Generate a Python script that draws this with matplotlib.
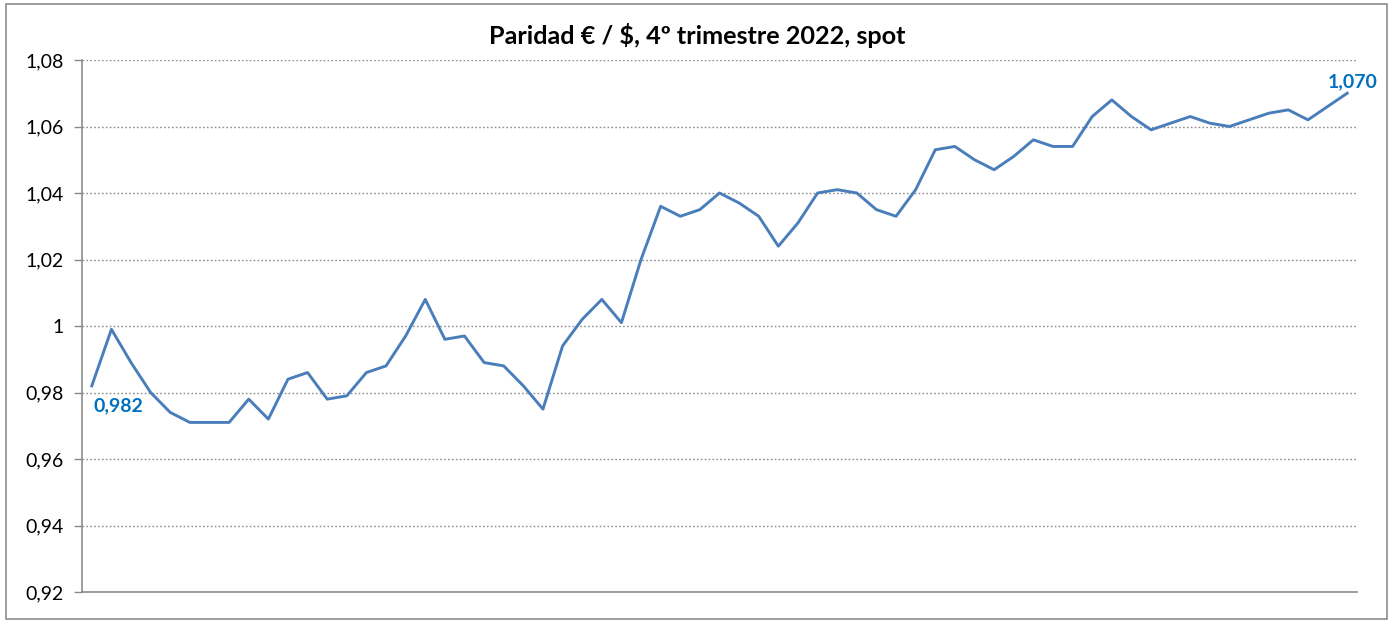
import matplotlib.pyplot as plt
from matplotlib.patches import Rectangle

# Paridad EUR/USD, 4T 2022
paridad = [0.982, 0.999, 0.989, 0.980, 0.974, 0.971, 0.971, 0.971, 0.978, 0.972,
           0.984, 0.986, 0.978, 0.979, 0.986, 0.988, 0.997, 1.008, 0.996, 0.997,
           0.989, 0.988, 0.982, 0.975, 0.994, 1.002, 1.008, 1.001, 1.020, 1.036,
           1.033, 1.035, 1.040, 1.037, 1.033, 1.024, 1.031, 1.040, 1.041, 1.040,
           1.035, 1.033, 1.041, 1.053, 1.054, 1.050, 1.047, 1.051, 1.056, 1.054,
           1.054, 1.063, 1.068, 1.063, 1.059, 1.061, 1.063, 1.061, 1.060, 1.062,
           1.064, 1.065, 1.062, 1.066, 1.070]
yticks = [0.92, 0.94, 0.96, 0.98, 1.00, 1.02, 1.04, 1.06, 1.08]
ylabels = ['0,92', '0,94', '0,96', '0,98', '1', '1,02', '1,04', '1,06', '1,08']
titulo = 'Paridad € / $, 4º trimestre 2022, spot'

plt.rcParams['font.family'] = ['Lato', 'DejaVu Sans']
azul = '#4A7EBB'
gris = '#8C8C8C'

fig = plt.figure(figsize=(13.94, 6.21), dpi=100)
fig.patches.append(Rectangle((6 / 1394, 2 / 621), 1381 / 1394, 615 / 621,
                             transform=fig.transFigure, fill=False,
                             edgecolor=gris, linewidth=1.2))
ax = fig.add_axes([82 / 1394, 1 - 592 / 621, 1275 / 1394, 532 / 621])

x = list(range(len(paridad)))
ax.plot(x, paridad, color=azul, linewidth=2.1)

ax.set_xlim(-0.5, len(paridad) - 0.5)
ax.set_ylim(0.92, 1.08)
ax.set_yticks(yticks)
ax.set_yticklabels(ylabels, fontsize=14)
ax.set_xticks([])
ax.yaxis.grid(True, linestyle=(0, (1.2, 1.6)), color=gris, linewidth=1.0)
ax.set_axisbelow(True)
ax.tick_params(axis='y', length=6, width=1, color=gris, pad=7)
for s in ['top', 'right']:
    ax.spines[s].set_visible(False)
for s in ['left', 'bottom']:
    ax.spines[s].set_color(gris)
    ax.spines[s].set_linewidth(1.2)

ax.annotate('0,982', xy=(x[0], paridad[0]), xytext=(1, -14),
            textcoords='offset points', ha='left', va='center',
            fontsize=14, fontweight='bold', color='#0070C0')
ax.annotate('1,070', xy=(x[-1], paridad[-1]), xytext=(4, 8),
            textcoords='offset points', ha='center', va='center',
            fontsize=14, fontweight='bold', color='#0070C0')

fig.text(0.5, 1 - 35 / 621, titulo, ha='center', va='center',
         fontsize=18.2, fontweight='bold')

plt.savefig('out.png', dpi=100)
